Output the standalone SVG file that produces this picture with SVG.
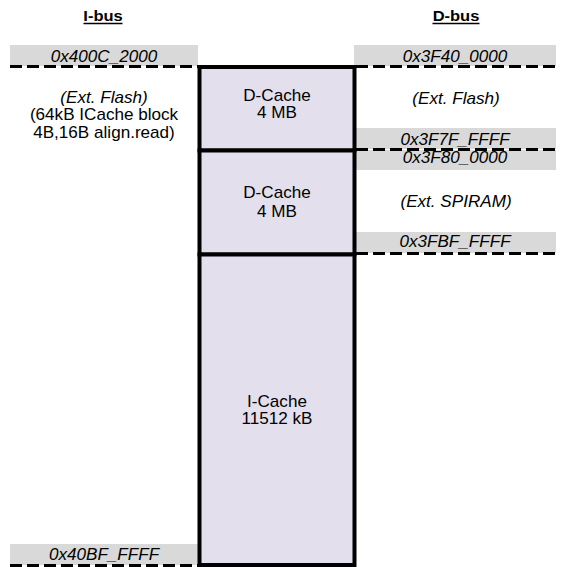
<svg xmlns="http://www.w3.org/2000/svg" width="561" height="567" viewBox="0 0 561 567">
<style>
.t{font-family:"Liberation Sans",Arial,sans-serif;font-size:16px;fill:#000;text-anchor:middle}
.i{font-style:italic}
.b{font-weight:bold;font-size:15px}
.blk{fill:#E4DFEC;stroke:#000;stroke-width:4}
.addr{fill:#D9D9D9}
.dash{stroke:#000;stroke-width:3;stroke-dasharray:12 5;fill:none}
.ul{stroke:#000;stroke-width:1.5}
</style>
<rect width="561" height="567" fill="#fff"/>
<g id="titles">
<text class="t b" transform="translate(103,21) scale(1.1,1)">I-bus</text>
<line class="ul" x1="83.5" y1="23.5" x2="122.5" y2="23.5"/>
<text class="t b" transform="translate(456,21) scale(1.1,1)">D-bus</text>
<line class="ul" x1="432.5" y1="23.5" x2="479.5" y2="23.5"/>
</g>
<g id="addr-400C2000">
<rect class="addr" x="10" y="45" width="188" height="21"/>
<text class="t i" transform="translate(104,62) scale(1.07,1)">0x400C_2000</text>
</g>
<g id="addr-40BFFFFF">
<rect class="addr" x="10" y="544" width="188" height="21"/>
<text class="t i" transform="translate(104,559.5) scale(1.07,1)">0x40BF_FFFF</text>
</g>
<g id="addr-3F400000">
<rect class="addr" x="354" y="45" width="202" height="21"/>
<text class="t i" transform="translate(455,62) scale(1.07,1)">0x3F40_0000</text>
</g>
<g id="addr-3F7FFFFF">
<rect class="addr" x="354" y="128" width="202" height="21"/>
<text class="t i" transform="translate(455,145) scale(1.07,1)">0x3F7F_FFFF</text>
</g>
<g id="addr-3F800000">
<rect class="addr" x="354" y="150" width="202" height="20"/>
<text class="t i" transform="translate(455,163) scale(1.07,1)">0x3F80_0000</text>
</g>
<g id="addr-3FBFFFFF">
<rect class="addr" x="354" y="232" width="202" height="21"/>
<text class="t i" transform="translate(455,247) scale(1.07,1)">0x3FBF_FFFF</text>
</g>
<g id="dcache1">
<rect class="blk" x="199.5" y="67" width="155" height="83.5"/>
<text class="t" transform="translate(277,100.5) scale(1.07,1)">D-Cache</text>
<text class="t" transform="translate(277,117.5) scale(1.07,1)">4 MB</text>
</g>
<g id="dcache2">
<rect class="blk" x="199.5" y="150.5" width="155" height="104"/>
<text class="t" transform="translate(277,198) scale(1.07,1)">D-Cache</text>
<text class="t" transform="translate(277,216.5) scale(1.07,1)">4 MB</text>
</g>
<g id="icache">
<rect class="blk" x="199.5" y="254.5" width="155" height="310.5"/>
<text class="t" transform="translate(277,406.5) scale(1.07,1)">I-Cache</text>
<text class="t" transform="translate(277,424) scale(1.07,1)">11512 kB</text>
</g>
<g id="ibus-flash">
<text class="t i" transform="translate(104,102.5) scale(1.07,1)">(Ext. Flash)</text>
<text class="t" transform="translate(104,120) scale(1.07,1)">(64kB ICache block</text>
<text class="t" transform="translate(104,137.5) scale(1.07,1)">4B,16B align.read)</text>
</g>
<g id="dbus-flash">
<text class="t i" transform="translate(456,103.5) scale(1.07,1)">(Ext. Flash)</text>
</g>
<g id="dbus-spiram">
<text class="t i" transform="translate(456,206.5) scale(1.07,1)">(Ext. SPIRAM)</text>
</g>
<g id="boundaries">
<line class="dash" x1="10" y1="66.5" x2="198" y2="66.5"/>
<line class="dash" x1="10" y1="565.5" x2="198" y2="565.5"/>
<line class="dash" x1="356" y1="66.5" x2="556" y2="66.5"/>
<line class="dash" x1="356" y1="149.5" x2="556" y2="149.5"/>
<line class="dash" x1="356" y1="253.5" x2="556" y2="253.5"/>
</g>
</svg>
